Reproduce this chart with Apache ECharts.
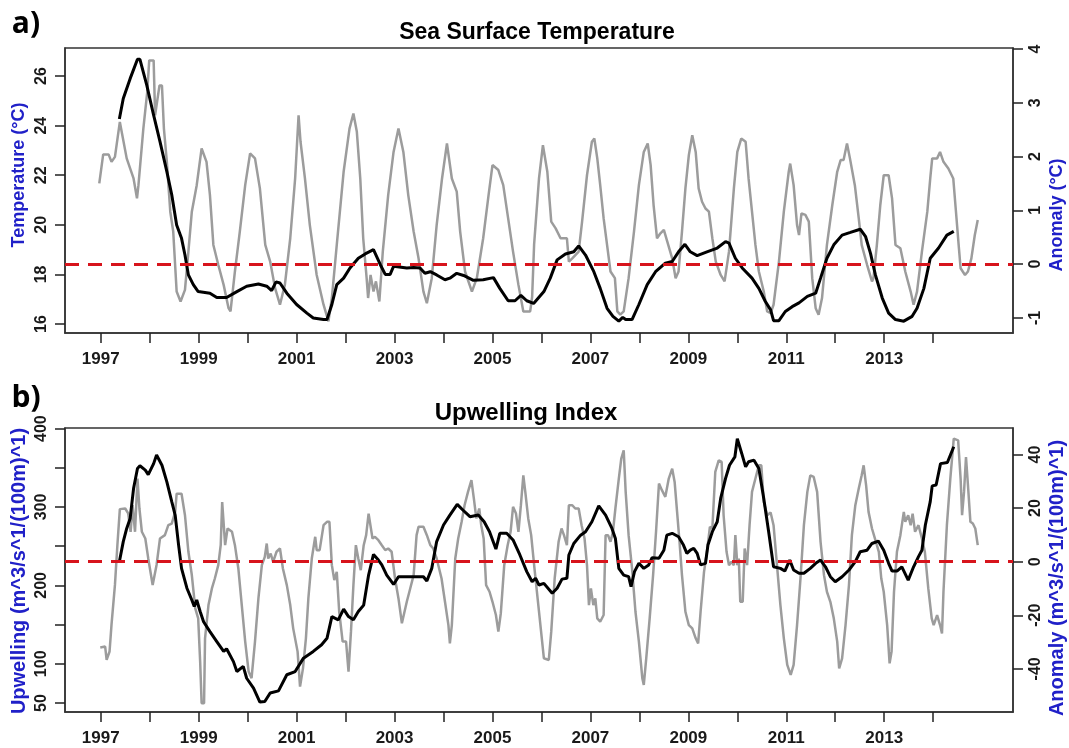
<!DOCTYPE html>
<html><head><meta charset="utf-8">
<script src="https://cdn.jsdelivr.net/npm/echarts@6/dist/echarts.min.js"></script>
<style>html,body{margin:0;padding:0;background:#fff}#c{width:1069px;height:748px}</style>
</head><body><div id="c"></div>
<script>
// ---- tick values ----
const yearTicks = [1997,1998,1999,2000,2001,2002,2003,2004,2005,2006,2007,2008,2009,2010,2011,2012,2013,2014];
const yearLabels = [1997,1999,2001,2003,2005,2007,2009,2011,2013];
const sstTicks = [16,18,20,22,24,26];
const sstAnomTicks = [-1,0,1,2,3,4];
const upwTicks = [50,100,150,200,250,300,350,400];
const upwLabels = [50,100,200,300,400];
const upwAnomTicks = [-40,-20,0,20,40];

// ---- a) Sea surface temperature, raw (deg C) [year, value] ----
const sstRaw = [[1996.97,21.67],[1997.05,22.84],[1997.16,22.84],[1997.22,22.54],[1997.29,22.74],[1997.39,24.15],[1997.53,22.68],[1997.67,21.87],[1997.74,21.07],[1997.77,21.6],[1997.87,23.88],[1997.95,25.36],[1997.99,26.63],[1998.08,26.63],[1998.11,24.42],[1998.16,25.09],[1998.2,25.62],[1998.25,25.62],[1998.29,23.88],[1998.35,22.54],[1998.42,20.53],[1998.48,19.73],[1998.55,17.31],[1998.63,16.91],[1998.72,17.38],[1998.79,18.92],[1998.86,20.53],[1998.96,21.6],[1999.06,23.08],[1999.16,22.54],[1999.23,21.2],[1999.3,19.19],[1999.4,18.39],[1999.51,17.58],[1999.61,16.64],[1999.65,16.51],[1999.74,18.12],[1999.84,19.73],[1999.95,21.6],[2000.05,22.88],[2000.15,22.68],[2000.25,21.47],[2000.36,19.19],[2000.46,18.52],[2000.56,17.45],[2000.66,16.78],[2000.76,17.58],[2000.87,19.46],[2000.97,21.87],[2001.04,24.42],[2001.08,23.35],[2001.17,21.87],[2001.27,19.99],[2001.41,17.98],[2001.55,16.78],[2001.65,16.11],[2001.72,17.05],[2001.82,19.19],[2001.96,22.14],[2002.08,23.88],[2002.16,24.49],[2002.23,23.75],[2002.3,21.87],[2002.36,19.46],[2002.43,17.85],[2002.46,17.05],[2002.51,17.98],[2002.57,17.31],[2002.62,17.72],[2002.69,16.91],[2002.76,18.92],[2002.87,21.2],[2002.98,22.94],[2003.08,23.88],[2003.18,22.94],[2003.28,21.2],[2003.39,19.73],[2003.49,18.65],[2003.59,17.31],[2003.66,16.84],[2003.76,17.85],[2003.86,19.99],[2003.97,21.87],[2004.07,23.28],[2004.17,21.87],[2004.27,21.34],[2004.34,19.73],[2004.44,18.12],[2004.58,17.31],[2004.68,17.85],[2004.81,19.46],[2004.92,21.2],[2005.0,22.41],[2005.12,22.21],[2005.22,21.6],[2005.32,20.26],[2005.42,18.92],[2005.53,17.58],[2005.63,16.51],[2005.77,16.51],[2005.81,17.1],[2005.85,19.2],[2005.95,21.87],[2006.03,23.21],[2006.07,23.21],[2006.12,22.14],[2006.2,20.13],[2006.29,19.86],[2006.39,19.46],[2006.52,19.46],[2006.56,18.52],[2006.63,18.65],[2006.76,18.92],[2006.83,20.13],[2006.93,22.0],[2007.03,23.35],[2007.08,23.48],[2007.14,22.68],[2007.2,21.6],[2007.27,20.26],[2007.34,19.19],[2007.41,18.12],[2007.5,17.85],[2007.55,16.51],[2007.61,16.38],[2007.68,16.51],[2007.78,17.85],[2007.89,19.73],[2007.99,21.6],[2008.09,22.94],[2008.17,23.28],[2008.23,22.41],[2008.29,20.8],[2008.36,19.46],[2008.43,19.66],[2008.5,19.8],[2008.57,19.32],[2008.67,18.65],[2008.74,17.85],[2008.8,18.12],[2008.87,19.73],[2008.94,21.47],[2009.01,22.81],[2009.08,23.61],[2009.15,22.94],[2009.21,21.47],[2009.28,20.93],[2009.35,20.66],[2009.42,20.53],[2009.49,19.46],[2009.56,18.52],[2009.66,17.98],[2009.74,17.72],[2009.83,18.92],[2009.93,21.47],[2010.0,22.94],[2010.08,23.48],[2010.17,23.35],[2010.23,21.87],[2010.3,20.53],[2010.37,19.19],[2010.44,18.12],[2010.54,17.31],[2010.61,16.51],[2010.68,16.44],[2010.74,16.78],[2010.85,18.52],[2010.95,20.53],[2011.05,22.14],[2011.08,22.47],[2011.15,21.6],[2011.22,19.99],[2011.26,19.59],[2011.31,20.46],[2011.39,20.4],[2011.46,20.13],[2011.53,17.85],[2011.6,16.64],[2011.66,16.38],[2011.73,17.05],[2011.83,19.19],[2011.94,20.8],[2012.04,22.14],[2012.11,22.61],[2012.17,22.61],[2012.24,23.28],[2012.3,22.68],[2012.4,21.6],[2012.48,20.26],[2012.54,19.19],[2012.65,18.39],[2012.75,17.72],[2012.78,17.85],[2012.85,19.19],[2012.92,20.8],[2012.99,22.0],[2013.09,22.0],[2013.16,21.07],[2013.23,19.19],[2013.33,19.06],[2013.43,18.12],[2013.54,17.31],[2013.6,16.78],[2013.67,17.31],[2013.77,18.92],[2013.88,20.53],[2013.94,21.87],[2013.98,22.68],[2014.08,22.68],[2014.14,22.94],[2014.21,22.54],[2014.31,22.27],[2014.41,21.87],[2014.46,20.66],[2014.52,19.19],[2014.56,18.25],[2014.65,17.98],[2014.71,18.12],[2014.78,18.65],[2014.85,19.59],[2014.91,20.2]];

// ---- a) SST anomaly, smoothed (deg C) ----
const sstAnom = [[1997.38,2.7],[1997.46,3.08],[1997.6,3.45],[1997.75,3.81],[1997.8,3.81],[1997.94,3.33],[1998.08,2.77],[1998.21,2.28],[1998.35,1.72],[1998.45,1.29],[1998.55,0.73],[1998.65,0.48],[1998.72,0.17],[1998.79,-0.2],[1998.89,-0.38],[1998.99,-0.51],[1999.23,-0.54],[1999.37,-0.62],[1999.57,-0.62],[1999.78,-0.51],[1999.98,-0.41],[2000.22,-0.37],[2000.39,-0.41],[2000.49,-0.49],[2000.58,-0.33],[2000.66,-0.35],[2000.8,-0.54],[2001.0,-0.75],[2001.21,-0.91],[2001.34,-1.0],[2001.55,-1.03],[2001.62,-1.03],[2001.72,-0.75],[2001.82,-0.38],[2001.96,-0.26],[2002.09,-0.07],[2002.26,0.11],[2002.4,0.19],[2002.57,0.27],[2002.71,-0.01],[2002.81,-0.19],[2002.91,-0.19],[2002.98,-0.04],[2003.25,-0.07],[2003.39,-0.06],[2003.52,-0.07],[2003.62,-0.17],[2003.73,-0.14],[2003.86,-0.2],[2004.03,-0.29],[2004.13,-0.26],[2004.27,-0.17],[2004.41,-0.21],[2004.61,-0.3],[2004.81,-0.29],[2005.02,-0.25],[2005.15,-0.45],[2005.32,-0.68],[2005.46,-0.68],[2005.58,-0.58],[2005.7,-0.68],[2005.84,-0.73],[2006.05,-0.51],[2006.18,-0.26],[2006.32,0.08],[2006.49,0.19],[2006.66,0.23],[2006.76,0.34],[2006.9,0.17],[2007.07,-0.14],[2007.2,-0.45],[2007.34,-0.82],[2007.46,-0.97],[2007.58,-1.06],[2007.66,-0.99],[2007.72,-1.03],[2007.85,-1.03],[2007.99,-0.75],[2008.16,-0.38],[2008.33,-0.14],[2008.53,0.02],[2008.67,0.05],[2008.8,0.23],[2008.93,0.37],[2009.04,0.23],[2009.18,0.16],[2009.38,0.23],[2009.59,0.3],[2009.76,0.42],[2009.83,0.39],[2009.96,0.11],[2010.1,-0.07],[2010.3,-0.26],[2010.44,-0.45],[2010.57,-0.69],[2010.68,-0.85],[2010.74,-1.05],[2010.85,-1.05],[2010.98,-0.88],[2011.12,-0.79],[2011.26,-0.72],[2011.43,-0.6],[2011.6,-0.54],[2011.7,-0.26],[2011.83,0.11],[2011.97,0.36],[2012.14,0.54],[2012.31,0.59],[2012.51,0.65],[2012.62,0.51],[2012.72,0.2],[2012.82,-0.2],[2012.96,-0.63],[2013.09,-0.91],[2013.23,-1.03],[2013.4,-1.06],[2013.57,-0.97],[2013.67,-0.82],[2013.81,-0.45],[2013.94,0.11],[2014.11,0.3],[2014.28,0.54],[2014.42,0.61]];

// ---- b) Upwelling index, raw ----
const upwRaw = [[1996.99,120.8],[1997.09,122],[1997.12,105],[1997.18,115.7],[1997.22,150],[1997.29,200.6],[1997.34,251.5],[1997.39,297.3],[1997.5,298.1],[1997.56,291.8],[1997.61,268.4],[1997.65,302.3],[1997.7,268.4],[1997.75,336.3],[1997.79,298.1],[1997.84,268.4],[1997.91,259.9],[1997.97,234.4],[1998.06,200.6],[1998.14,226],[1998.21,259.9],[1998.31,264.1],[1998.38,276.8],[1998.45,278.9],[1998.52,293.7],[1998.55,317],[1998.65,317],[1998.72,289.5],[1998.79,242.9],[1998.86,213.2],[1998.93,170.8],[1998.99,158],[1999.03,103],[1999.06,49.8],[1999.11,49.8],[1999.13,132.5],[1999.2,174.9],[1999.27,196.1],[1999.33,208.8],[1999.4,225.8],[1999.45,251.3],[1999.48,306.4],[1999.52,306.4],[1999.54,251.3],[1999.59,272.6],[1999.68,268.4],[1999.74,251.3],[1999.81,221.6],[1999.88,174.9],[1999.95,128.3],[2000.02,90.1],[2000.08,81.6],[2000.15,128.3],[2000.22,183.4],[2000.29,225.8],[2000.35,236.4],[2000.39,253.4],[2000.42,234.3],[2000.47,240.7],[2000.52,230.1],[2000.59,242.9],[2000.66,247.1],[2000.72,221.6],[2000.8,200.4],[2000.87,174.9],[2000.93,145.2],[2001.02,115.5],[2001.07,70.9],[2001.13,94.2],[2001.19,132.5],[2001.24,183.4],[2001.31,234.3],[2001.38,262],[2001.41,245],[2001.47,245],[2001.55,276.8],[2001.62,281.1],[2001.67,281.1],[2001.72,225.8],[2001.77,206.7],[2001.82,217.3],[2001.87,166.4],[2001.94,128.3],[2002.01,128.3],[2002.06,90.1],[2002.11,141],[2002.16,200.4],[2002.21,251.3],[2002.26,234.3],[2002.31,219.5],[2002.37,251.3],[2002.42,264.1],[2002.47,291.6],[2002.51,291.6],[2002.55,259.9],[2002.6,262],[2002.67,257.7],[2002.74,251.3],[2002.81,245],[2002.87,247.1],[2002.94,242.9],[2003.01,208.8],[2003.08,183.4],[2003.15,151.6],[2003.19,149.4],[2003.25,179.1],[2003.32,196.1],[2003.39,213.1],[2003.45,264.1],[2003.49,274.7],[2003.59,274.7],[2003.66,264.1],[2003.73,251.3],[2003.79,247.1],[2003.86,234.3],[2003.96,208.8],[2004.03,179.1],[2004.1,149.4],[2004.13,126.1],[2004.17,149.4],[2004.24,234.3],[2004.3,259.9],[2004.37,281.1],[2004.43,302.3],[2004.5,319.3],[2004.57,334.2],[2004.62,310.8],[2004.67,285.4],[2004.73,298.1],[2004.77,276.8],[2004.82,259.9],[2004.87,200.4],[2004.94,191.9],[2005.0,179.1],[2005.07,162.2],[2005.12,141],[2005.17,164.3],[2005.24,225.8],[2005.31,251.3],[2005.37,268.4],[2005.42,300.2],[2005.48,291.6],[2005.53,268.4],[2005.58,302.3],[2005.63,340.4],[2005.67,319.3],[2005.73,285.4],[2005.79,264.1],[2005.86,220],[2005.95,166.4],[2006.05,107],[2006.15,104.9],[2006.2,141],[2006.27,208.8],[2006.35,255.6],[2006.41,272.6],[2006.46,264.1],[2006.52,251.3],[2006.56,302.3],[2006.63,302.3],[2006.69,298.1],[2006.76,298.1],[2006.82,276.8],[2006.88,259.9],[2006.93,225.8],[2006.97,174.9],[2007.01,196.1],[2007.06,174.9],[2007.1,183.4],[2007.14,158],[2007.2,153.7],[2007.27,162.2],[2007.31,264.1],[2007.36,264.1],[2007.41,255.6],[2007.46,268.4],[2007.51,298.1],[2007.58,336.3],[2007.63,361.7],[2007.68,372.3],[2007.72,319.3],[2007.78,264.1],[2007.85,221.6],[2007.92,166.4],[2007.99,128.3],[2008.06,81.6],[2008.09,73.1],[2008.14,107],[2008.21,158],[2008.28,213.1],[2008.34,268.4],[2008.4,330],[2008.46,321.5],[2008.53,313],[2008.6,336.3],[2008.67,349],[2008.72,332],[2008.77,293.8],[2008.82,255.6],[2008.87,213.1],[2008.94,166.4],[2009.01,149.4],[2009.08,145.2],[2009.15,132.5],[2009.2,126.1],[2009.25,166.4],[2009.32,217.3],[2009.38,242.9],[2009.44,274.7],[2009.49,272.6],[2009.55,344.7],[2009.62,359.6],[2009.68,357.5],[2009.72,289.5],[2009.78,242.9],[2009.83,225.8],[2009.88,230.1],[2009.93,225.8],[2009.96,264.1],[2010.0,225.8],[2010.03,234.3],[2010.06,179.1],[2010.11,179.1],[2010.15,247.1],[2010.2,225.8],[2010.25,276.8],[2010.3,319.3],[2010.37,336.3],[2010.44,353.2],[2010.49,353.2],[2010.54,306.6],[2010.61,289.5],[2010.68,293],[2010.74,276.8],[2010.81,225.8],[2010.88,174.9],[2010.95,132.5],[2011.02,98.5],[2011.09,85.8],[2011.15,98.5],[2011.22,149.4],[2011.29,208.8],[2011.36,276.8],[2011.43,319.3],[2011.49,340.4],[2011.56,338.3],[2011.63,319.3],[2011.7,255.6],[2011.77,213.1],[2011.83,191.9],[2011.9,179.1],[2011.97,158],[2012.04,128.3],[2012.08,94.2],[2012.14,107],[2012.21,149.4],[2012.28,200.4],[2012.34,264.1],[2012.41,302.3],[2012.48,323.6],[2012.54,340.4],[2012.58,353.2],[2012.63,327.9],[2012.68,293.8],[2012.75,272.6],[2012.82,257.7],[2012.89,242.9],[2012.94,208.8],[2012.99,191.9],[2013.06,149.4],[2013.11,100.6],[2013.15,115.5],[2013.2,191.9],[2013.26,242.9],[2013.33,264.1],[2013.4,293.8],[2013.43,281.1],[2013.49,289.5],[2013.54,276.8],[2013.58,291.6],[2013.63,268.4],[2013.7,276.8],[2013.77,259.9],[2013.83,242.9],[2013.9,196.1],[2013.97,158],[2014.01,149.4],[2014.08,162.2],[2014.14,149.4],[2014.18,138.7],[2014.21,191.9],[2014.28,276.8],[2014.35,336.3],[2014.42,387.2],[2014.51,385.1],[2014.56,336.3],[2014.59,289.5],[2014.63,319.3],[2014.67,363.8],[2014.71,327.9],[2014.76,281.1],[2014.81,278.9],[2014.86,272.6],[2014.91,251.3]];

// ---- b) Upwelling anomaly, smoothed ----
const upwAnom = [[1997.38,0],[1997.46,7.5],[1997.53,12.4],[1997.6,16.1],[1997.67,27.3],[1997.75,34.8],[1997.8,35.8],[1997.91,34.2],[1997.97,32.5],[1998.08,36.6],[1998.14,39.8],[1998.25,36],[1998.35,29.8],[1998.45,22.4],[1998.52,17.4],[1998.59,6.2],[1998.65,-2.5],[1998.76,-9.9],[1998.86,-14.3],[1998.91,-16.7],[1998.96,-14.3],[1999.03,-18.6],[1999.1,-22.4],[1999.23,-26.1],[1999.37,-29.8],[1999.51,-33.5],[1999.57,-32.5],[1999.71,-37.3],[1999.78,-41],[1999.91,-39.1],[1999.98,-43.5],[2000.12,-47.2],[2000.25,-52.4],[2000.35,-52.2],[2000.46,-49],[2000.63,-48.2],[2000.8,-42.2],[2000.97,-41],[2001.14,-36],[2001.34,-33.5],[2001.51,-31],[2001.62,-28.6],[2001.72,-20.5],[2001.85,-21.7],[2001.96,-17.7],[2002.06,-20.5],[2002.16,-21.7],[2002.26,-18.6],[2002.37,-16.2],[2002.47,-5],[2002.57,2.7],[2002.67,0.6],[2002.74,-1.2],[2002.84,-5],[2002.98,-8.5],[2003.08,-5.6],[2003.25,-5.6],[2003.45,-5.6],[2003.59,-5.6],[2003.66,-7.2],[2003.76,-2.5],[2003.86,7.5],[2004.0,13.7],[2004.13,17.4],[2004.28,21.4],[2004.4,19.2],[2004.54,16.8],[2004.71,17.4],[2004.83,14.9],[2004.94,11.2],[2005.07,4.7],[2005.15,10.6],[2005.29,10.6],[2005.42,8.1],[2005.56,2.5],[2005.7,-3.7],[2005.81,-7.5],[2005.88,-6.2],[2005.95,-8.7],[2006.05,-8.1],[2006.22,-11.8],[2006.32,-9.9],[2006.42,-6.5],[2006.52,-6.2],[2006.56,2.5],[2006.66,6.8],[2006.8,9.9],[2006.9,11.2],[2007.03,14.9],[2007.17,20.8],[2007.31,17.4],[2007.44,12.4],[2007.51,8.7],[2007.58,-2.5],[2007.68,-5],[2007.78,-5.6],[2007.83,-9.3],[2007.9,-3.7],[2007.99,-0.6],[2008.09,-2.5],[2008.19,-1.2],[2008.26,1.5],[2008.4,1.3],[2008.5,4.3],[2008.56,9.9],[2008.67,10.6],[2008.8,9.3],[2008.9,6.2],[2008.97,3.1],[2009.04,4.3],[2009.11,5],[2009.18,3.1],[2009.25,-1.2],[2009.35,-0.6],[2009.4,6.2],[2009.49,11.2],[2009.59,14.9],[2009.66,23.6],[2009.76,31.1],[2009.84,36],[2009.95,39.1],[2010.0,45.9],[2010.09,40.4],[2010.17,35.4],[2010.23,37.3],[2010.34,37.9],[2010.44,34.8],[2010.54,23.6],[2010.64,11.2],[2010.74,-1.9],[2010.88,-2.5],[2010.97,-3.5],[2011.07,0.6],[2011.15,-3.1],[2011.26,-4.3],[2011.36,-4.3],[2011.49,-2.5],[2011.6,-0.6],[2011.7,0.6],[2011.8,-1.9],[2011.9,-5.6],[2012.0,-7.5],[2012.14,-5.6],[2012.28,-3.1],[2012.41,0],[2012.51,3.7],[2012.65,4.3],[2012.75,6.8],[2012.88,7.7],[2012.99,4.3],[2013.09,-0.6],[2013.16,-3.5],[2013.26,-3.5],[2013.36,-1.9],[2013.49,-6.9],[2013.6,-1.9],[2013.7,1.9],[2013.77,4.3],[2013.84,13.7],[2013.94,22.4],[2013.98,28.3],[2014.06,28.6],[2014.15,36.6],[2014.29,37],[2014.42,42.9]];

const FONT = 'Liberation Sans, Arial, sans-serif';
const BLUE = '#2020c8';
const GRAY = '#9c9c9c';
const RED = '#d7141c';
const TICKCOL = '#222';
const X_MIN = 1996.27, X_MAX = 2015.63;

function xAxisFor(gi) {
  return {
    type: 'value', gridIndex: gi, min: X_MIN, max: X_MAX, position: 'bottom',
    axisLine: { show: true, onZero: false, lineStyle: { color: '#333', width: 1.5 } },
    axisTick: { show: true, length: 10, customValues: yearTicks, lineStyle: { color: TICKCOL, width: 1.5 } },
    axisLabel: { customValues: yearLabels, formatter: v => String(v), margin: 18,
      fontFamily: FONT, fontWeight: 'bold', fontSize: 17, color: '#1a1a1a' },
    splitLine: { show: false }
  };
}
function yAxisFor(gi, pos, min, max, ticks, labels) {
  return {
    type: 'value', gridIndex: gi, position: pos, min: min, max: max,
    axisLine: { show: true, onZero: false, lineStyle: { color: '#333', width: 1.5 } },
    axisTick: { show: true, length: 10, customValues: ticks, lineStyle: { color: TICKCOL, width: 1.5 } },
    axisLabel: { customValues: labels, rotate: 90, margin: 15, formatter: v => String(v),
      fontFamily: FONT, fontWeight: 'bold', fontSize: 16, color: '#1a1a1a' },
    splitLine: { show: false }
  };
}

const zeroLine = {
  silent: true, symbol: 'none',
  label: { show: false },
  lineStyle: { color: RED, width: 3, type: [14, 9] },
  data: [{ yAxis: 0 }]
};

function vtext(txt, x, y, size) {
  return { type: 'text', x: x, y: y, rotation: Math.PI / 2,
    style: { text: txt, fill: BLUE, font: 'bold ' + size + 'px ' + FONT, textAlign: 'center', textVerticalAlign: 'middle' } };
}
function htext(txt, x, y, size, family) {
  return { type: 'text', x: x, y: y,
    style: { text: txt, fill: '#000', font: 'bold ' + size + 'px ' + (family || FONT), textAlign: 'center', textVerticalAlign: 'middle' } };
}

const chart = echarts.init(document.getElementById('c'), null, { renderer: 'canvas' });
chart.setOption({
  backgroundColor: '#fff',
  animation: false,
  grid: [
    { left: 65, right: 56, top: 48, height: 285, show: true, borderColor: '#333', borderWidth: 1.5, backgroundColor: 'transparent' },
    { left: 65, right: 56, top: 428, height: 284, show: true, borderColor: '#333', borderWidth: 1.5, backgroundColor: 'transparent' }
  ],
  xAxis: [xAxisFor(0), xAxisFor(1)],
  yAxis: [
    yAxisFor(0, 'left', 15.64, 27.13, sstTicks, sstTicks),
    yAxisFor(0, 'right', -1.28, 4.02, sstAnomTicks, sstAnomTicks),
    yAxisFor(1, 'left', 38.5, 400.8, upwTicks, upwLabels),
    yAxisFor(1, 'right', -56.1, 49.9, upwAnomTicks, upwAnomTicks)
  ],
  graphic: [
    htext('a)', 26, 24, 30, 'Open Sans, sans-serif'),
    htext('b)', 26, 398, 30, 'Open Sans, sans-serif'),
    htext('Sea Surface Temperature', 537, 33, 23),
    htext('Upwelling Index', 526, 413, 24),
    vtext('Temperature (°C)', 19, 175, 18),
    vtext('Anomaly (°C)', 1057, 215, 18),
    vtext('Upwelling (m^3/s^1/(100m)^1)', 19, 571, 20),
    vtext('Anomaly (m^3/s^1/(100m)^1)', 1057, 578, 20)
  ],
  series: [
    { type: 'line', xAxisIndex: 0, yAxisIndex: 0, data: sstRaw, showSymbol: false, z: 2,
      lineStyle: { color: GRAY, width: 2.5 } },
    { type: 'line', xAxisIndex: 0, yAxisIndex: 1, data: sstAnom, showSymbol: false, z: 3,
      lineStyle: { color: '#000', width: 3 }, markLine: zeroLine },
    { type: 'line', xAxisIndex: 1, yAxisIndex: 2, data: upwRaw, showSymbol: false, z: 2,
      lineStyle: { color: GRAY, width: 2.5 } },
    { type: 'line', xAxisIndex: 1, yAxisIndex: 3, data: upwAnom, showSymbol: false, z: 3,
      lineStyle: { color: '#000', width: 3 }, markLine: zeroLine }
  ]
});
</script></body></html>
